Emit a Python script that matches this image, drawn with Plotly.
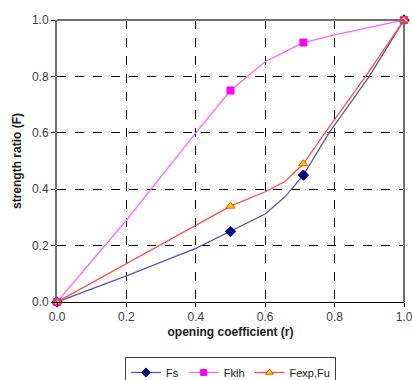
import plotly.graph_objects as go

# line data (curves)
r_fs = [0.0, 0.2, 0.4, 0.5, 0.6, 0.657, 0.71, 0.784, 0.9, 1.0]
f_fs = [0.0, 0.093, 0.19, 0.25, 0.312, 0.373, 0.45, 0.6, 0.8, 1.0]

r_fklh = [0.0, 0.2, 0.4, 0.5, 0.6, 0.71, 0.8, 0.9, 1.0]
f_fklh = [0.0, 0.29, 0.6, 0.75, 0.852, 0.92, 0.947, 0.973, 1.0]

r_fexp = [0.0, 0.2, 0.5, 0.6, 0.657, 0.71, 0.777, 0.895, 1.0]
f_fexp = [0.0, 0.135, 0.34, 0.391, 0.427, 0.49, 0.608, 0.81, 1.0]

# marker points
rm = [0.0, 0.5, 0.71, 1.0]
fm_fs = [0.0, 0.25, 0.45, 1.0]
fm_fklh = [0.0, 0.75, 0.92, 1.0]
fm_fexp = [0.0, 0.34, 0.49, 1.0]

names = ["Fs", "Fklh", "Fexp,Fu"]
tick_vals = [0.0, 0.2, 0.4, 0.6, 0.8, 1.0]
tick_text = ["0.0", "0.2", "0.4", "0.6", "0.8", "1.0"]

styles = [
    dict(line="#5a5a9c", mcolor="#000080", mline="#000080", symbol="diamond", size=8),
    dict(line="#ff66ff", mcolor="#ff00ff", mline="#ff00ff", symbol="square", size=7),
    dict(line="#ff4d4d", mcolor="#ffd700", mline="#ff4000", symbol="triangle-up", size=8),
]

fig = go.Figure()
series = [(r_fs, f_fs, fm_fs), (r_fklh, f_fklh, fm_fklh), (r_fexp, f_fexp, fm_fexp)]
for (rx, fy, fmy), st, nm in zip(series, styles, names):
    fig.add_trace(go.Scatter(x=rx, y=fy, mode="lines", line=dict(color=st["line"], width=1.3),
                             showlegend=False, cliponaxis=False, hoverinfo="skip"))
for (rx, fy, fmy), st, nm in zip(series, styles, names):
    fig.add_trace(go.Scatter(x=rm, y=fmy, mode="markers", showlegend=False, cliponaxis=False,
                             marker=dict(symbol=st["symbol"], size=st["size"], color=st["mcolor"],
                                         line=dict(color=st["mline"], width=1))))
for st, nm in zip(styles, names):
    fig.add_trace(go.Scatter(x=[None], y=[None], mode="lines+markers", name=nm,
                             line=dict(color=st["line"], width=1.3),
                             marker=dict(symbol=st["symbol"], size=st["size"] - 1, color=st["mcolor"],
                                         line=dict(color=st["mline"], width=1))))

axis_common = dict(
    range=[0, 1], tickvals=tick_vals, ticktext=tick_text,
    showgrid=True, gridcolor="#000000", gridwidth=1, griddash="dash",
    ticks="outside", ticklen=4, tickcolor="#000000",
    tickfont=dict(family="Liberation Sans, Arial", size=12, color="#404040"),
    zeroline=False, showline=True, ticklabeloverflow="allow",
)

fig.update_layout(
    width=412, height=380,
    margin=dict(l=57, r=8, t=20, b=78, autoexpand=False),
    paper_bgcolor="white", plot_bgcolor="white",
    font=dict(family="Liberation Sans, Arial", size=12, color="#202020"),
    xaxis=dict(**axis_common, linecolor="#000000", linewidth=1,
               title=dict(text="<b>opening coefficient (r)</b>", standoff=4,
                          font=dict(size=12, color="#202020"))),
    yaxis=dict(**axis_common, linecolor="#707070", linewidth=2,
               title=dict(text="<b>strength ratio (F)</b>", standoff=8,
                          font=dict(size=12, color="#202020"))),
    legend=dict(orientation="h", x=0.5, xanchor="center", y=-0.195, yanchor="top",
                bordercolor="#404040", borderwidth=1, font=dict(size=11, color="#202020"),
                itemwidth=30, tracegroupgap=0),
    shapes=[
        dict(type="line", xref="paper", yref="paper", x0=0, x1=1, y0=1, y1=1,
             line=dict(color="#707070", width=2)),
        dict(type="line", xref="paper", yref="paper", x0=1, x1=1, y0=0, y1=1,
             line=dict(color="#707070", width=2)),
    ],
)

fig.write_html("out.html")
